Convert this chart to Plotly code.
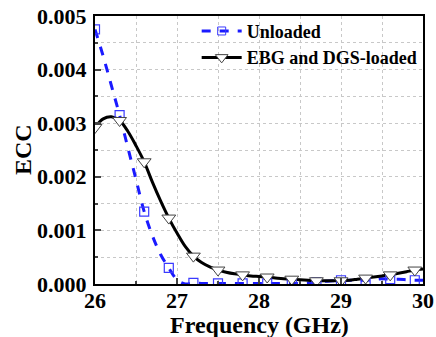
import plotly.graph_objects as go

freq = [round(26.0 + 0.1 * i, 1) for i in range(41)]
unloaded = [4.75, 4.25, 3.7, 3.15, 2.55, 1.95, 1.35, 0.9, 0.55, 0.3,
            0.08, 0.0, 0.02, 0.01, 0.01, 0.01, 0.01, 0.01, 0.01, 0.01,
            0.01, 0.01, 0.01, 0.01, 0.01, 0.01, 0.02, 0.03, 0.05, 0.06,
            0.07, 0.07, 0.07, 0.07, 0.08, 0.1, 0.09, 0.09, 0.08, 0.07, 0.07]
loaded = [2.92, 3.08, 3.12, 3.05, 2.85, 2.58, 2.28, 1.9, 1.55, 1.23,
          0.95, 0.7, 0.52, 0.4, 0.32, 0.26, 0.22, 0.19, 0.17, 0.15,
          0.14, 0.13, 0.11, 0.1, 0.09, 0.08, 0.07, 0.06, 0.06, 0.06,
          0.06, 0.07, 0.09, 0.11, 0.13, 0.15, 0.17, 0.2, 0.23, 0.26, 0.28]
unloaded = [v * 1e-3 for v in unloaded]
loaded = [v * 1e-3 for v in loaded]
marker_idx = list(range(0, 41, 3))

x_ticks = [26, 27, 28, 29, 30]
x_ticklabels = ["26", "27", "28", "29", "30"]
y_ticks = [0, 0.001, 0.002, 0.003, 0.004, 0.005]
y_ticklabels = ["0.000", "0.001", "0.002", "0.003", "0.004", "0.005"]

FONT = "Liberation Serif"

fig = go.Figure()
fig.add_trace(go.Scatter(x=freq, y=unloaded, mode="lines", showlegend=False,
                         line=dict(color="#1a1aff", width=3, dash="dash", shape="spline")))
fig.add_trace(go.Scatter(x=freq, y=loaded, mode="lines", showlegend=False,
                         line=dict(color="black", width=3, shape="spline")))
fig.add_trace(go.Scatter(x=[freq[i] for i in marker_idx], y=[unloaded[i] for i in marker_idx],
                         mode="markers", showlegend=False,
                         marker=dict(symbol="square-open", size=9, color="#3a3aff", line=dict(width=1.2))))
fig.add_trace(go.Scatter(x=[freq[i] for i in marker_idx], y=[loaded[i] for i in marker_idx],
                         mode="markers", showlegend=False,
                         marker=dict(symbol="triangle-down", size=12, color="white",
                                     line=dict(color="#444", width=1))))
fig.add_trace(go.Scatter(x=[None], y=[None], mode="lines+markers", name="<b>Unloaded</b>",
                         line=dict(color="#1a1aff", width=3, dash="dash"),
                         marker=dict(symbol="square-open", size=8, color="#3a3aff")))
fig.add_trace(go.Scatter(x=[None], y=[None], mode="lines+markers", name="<b>EBG and DGS-loaded</b>",
                         line=dict(color="black", width=3),
                         marker=dict(symbol="triangle-down", size=11, color="white",
                                     line=dict(color="#444", width=1))))

fig.update_layout(
    width=436, height=337,
    margin=dict(l=95, r=13, t=16, b=53),
    paper_bgcolor="white", plot_bgcolor="white",
    font=dict(family=FONT, color="black", size=18),
    legend=dict(x=0.31, y=1.012, xanchor="left", yanchor="top",
                bgcolor="rgba(0,0,0,0)", tracegroupgap=0, itemwidth=40),
    showlegend=True,
)
grid = dict(gridcolor="#c8c8c8", griddash="dot", gridwidth=1)
fig.update_xaxes(
    range=[26, 30], tickvals=x_ticks, showticklabels=False,
    ticks="inside", ticklen=6, tickwidth=1.5,
    minor=dict(dtick=0.5, ticks="inside", ticklen=3, showgrid=True, **grid),
    showgrid=True, **grid,
    showline=True, linecolor="black", linewidth=2, mirror=True, zeroline=False,
)
fig.update_yaxes(
    range=[0, 0.005], tickvals=y_ticks, showticklabels=False,
    ticks="inside", ticklen=6, tickwidth=1.5,
    minor=dict(dtick=0.0005, ticks="inside", ticklen=3, showgrid=True, **grid),
    showgrid=True, **grid,
    showline=True, linecolor="black", linewidth=2, mirror=True, zeroline=False,
)
for v, t in zip(x_ticks, x_ticklabels):
    fig.add_annotation(x=v, y=0, xref="x", yref="paper", yshift=-16, text=f"<b>{t}</b>",
                       showarrow=False, xanchor="center", yanchor="middle",
                       font=dict(family=FONT, size=22))
for v, t in zip(y_ticks, y_ticklabels):
    fig.add_annotation(x=0, y=v, xref="paper", yref="y", xshift=-6, text=f"<b>{t}</b>",
                       showarrow=False, xanchor="right", yanchor="middle",
                       font=dict(family=FONT, size=22))
fig.add_annotation(x=0.5, y=0, xref="paper", yref="paper", yshift=-41,
                   text="<b>Frequency (GHz)</b>", showarrow=False,
                   xanchor="center", yanchor="middle", font=dict(family=FONT, size=24))
fig.add_annotation(x=0, y=0.5, xref="paper", yref="paper", xshift=-72, textangle=-90,
                   text="<b>ECC</b>", showarrow=False,
                   xanchor="center", yanchor="middle", font=dict(family=FONT, size=24))
fig.write_html("out.html")
